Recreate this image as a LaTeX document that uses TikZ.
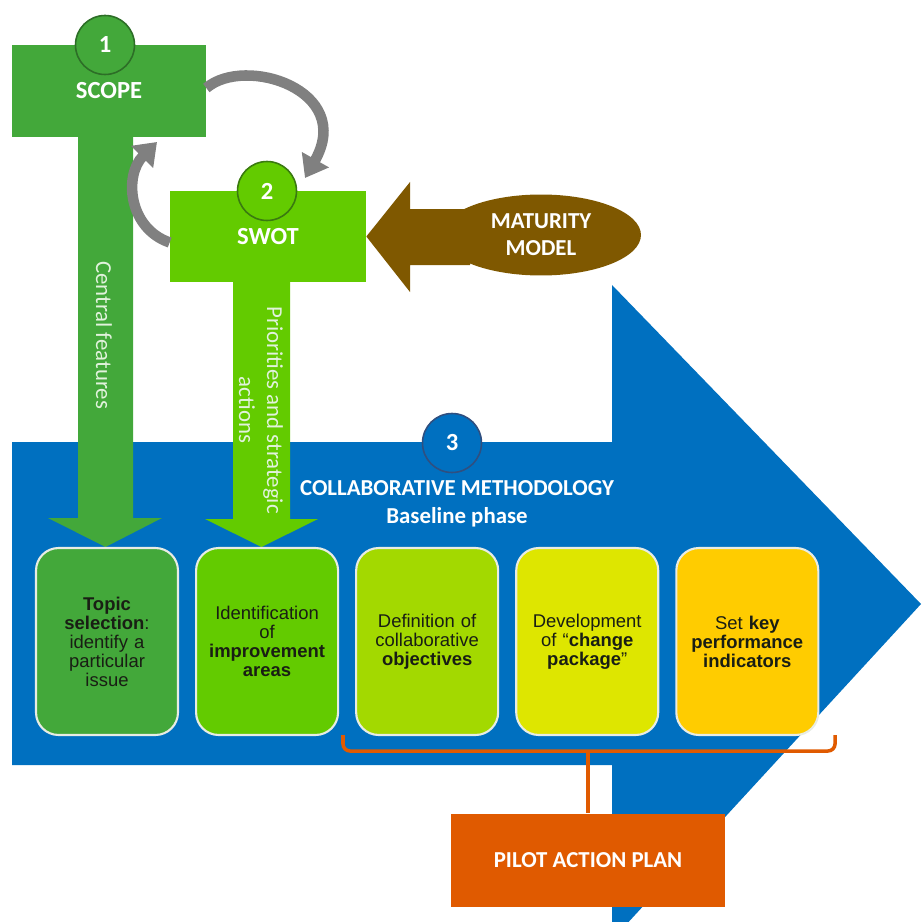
\documentclass[tikz,border=0pt]{standalone}
\usepackage{fontspec}
\setmainfont{Liberation Sans}
\newfontfamily\carlito{Carlito}
\usetikzlibrary{positioning,shapes.geometric,arrows.meta}

\definecolor{blueA}{RGB}{0,112,192}
\definecolor{greenA}{RGB}{67,168,58}
\definecolor{greenB}{RGB}{99,203,0}
\definecolor{greenC}{RGB}{163,217,0}
\definecolor{yellowD}{RGB}{222,230,0}
\definecolor{goldE}{RGB}{255,204,0}
\definecolor{brownM}{RGB}{127,88,0}
\definecolor{orangeP}{RGB}{224,90,0}
\definecolor{grayC}{RGB}{128,128,128}
\definecolor{stemwhite}{RGB}{225,242,220}
\definecolor{boxtext}{RGB}{25,30,20}
\definecolor{boxrim}{RGB}{232,236,228}

\tikzset{
  stepnum/.style={circle, minimum size=1.18cm, inner sep=0pt, line width=0.9pt,
    text=white, font=\carlito\bfseries\fontsize{14}{16}\selectfont},
  headbox/.style={rectangle, inner sep=0pt, text=white,
    font=\carlito\bfseries\fontsize{14}{16}\selectfont},
  stemtxt/.style={rotate=-90, text=stemwhite, align=center, inner sep=0pt,
    font=\carlito\fontsize{13}{16}\selectfont},
  phase/.style={rectangle, rounded corners=0.45cm, minimum width=2.84cm,
    minimum height=3.74cm, draw=boxrim, line width=1.2pt, text width=2.6cm,
    align=center, inner sep=0pt, text=boxtext, font=\fontsize{10.5}{10.8}\selectfont},
  cycarrow/.style={draw=grayC, line width=6pt, -{Triangle[width=17pt,length=12pt]}},
  bracket/.style={draw=orangeP, line width=2pt, rounded corners=4pt},
}

\begin{document}
\begin{tikzpicture}[x=0.02cm, y=-0.02cm]
\useasboundingbox (0,0) rectangle (921,922);

% big methodology arrow
\fill[blueA] (12,442) -- (612,442) -- (612,285) -- (921,604) -- (612,940)
  -- (612,765) -- (12,765) -- cycle;

% stems
\fill[greenA] (78,137) -- (133,137) -- (133,518) -- (162,518) -- (105.5,547)
  -- (48,518) -- (78,518) -- cycle;
\fill[greenB] (233,282) -- (290,282) -- (290,519) -- (318,519) -- (261.5,547)
  -- (205,519) -- (233,519) -- cycle;
\node[stemtxt] (central) at (104,335) {Central features};
\node[stemtxt] (prio) at (261,410) {Priorities and strategic\\actions};

% scope and swot
\node[headbox, fill=greenA, minimum width=3.88cm, minimum height=1.84cm] (scope) at (109,91) {SCOPE};
\node[headbox, fill=greenB, minimum width=3.92cm, minimum height=1.82cm] (swot) at (268,236.5) {SWOT};
\node[stepnum, fill=greenA, draw={rgb,255:red,45;green,110;blue,39}] (n1) at (105,45) {1};
\node[stepnum, fill=greenB, draw={rgb,255:red,58;green,122;blue,16}] (n2) at (267,191) {2};

\draw[cycarrow] ([yshift=0.06cm]scope.east) .. controls (245,55) and (355,90) .. (305,178);
\draw[cycarrow] ([yshift=-0.12cm]swot.west) .. controls (128,228) and (124,175) .. (157,142);

% maturity model
\node[ellipse, fill=brownM, minimum width=4cm, minimum height=1.62cm, inner sep=0pt]
  (mat) at (541,235) {};
\fill[brownM] (470,209) -- (410,209) -- (410,182) -- (swot.east) -- (410,292)
  -- (410,265) -- (470,265) -- cycle;
\node[text=white, align=center, font=\carlito\bfseries\fontsize{13}{15.5}\selectfont]
  (matlabel) at (mat.center) {MATURITY\\MODEL};

% step 3
\node[stepnum, fill=blueA, draw={rgb,255:red,47;green,79;blue,128}] (n3) at (452,443) {3};
\node[text=white, align=center, font=\carlito\bfseries\fontsize{13}{16}\selectfont]
  (colab) at (457,504) {COLLABORATIVE METHODOLOGY\\Baseline phase};

% phase boxes
\node[phase, fill=greenA] (b1) at (107,641.5) {\textbf{Topic}\\\textbf{selection}:\\identify a\\particular\\issue};
\node[phase, fill=greenB, right=0.32cm of b1] (b2) {Identification\\of\\\textbf{improvement}\\\textbf{areas}};
\node[phase, fill=greenC, right=0.32cm of b2] (b3) {Definition of\\collaborative\\\textbf{objectives}};
\node[phase, fill=yellowD, right=0.32cm of b3] (b4) {Development\\of “\textbf{change}\\\textbf{package}”};
\node[phase, fill=goldE, right=0.32cm of b4] (b5) {Set \textbf{key}\\\textbf{performance}\\\textbf{indicators}};

% pilot action plan
\node[rectangle, fill=orangeP, minimum width=5.48cm, minimum height=1.86cm, text=white,
  font=\carlito\bfseries\fontsize{13}{16}\selectfont] (pilot) at (588,860) {PILOT ACTION PLAN};
\coordinate (brL) at (343,735);
\coordinate (brR) at (835,735);
\coordinate (brM) at (588,751);
\draw[bracket] (brL) |- (brR |- brM) -- (brR);
\draw[bracket] (brM) -- (pilot.north);
\end{tikzpicture}
\end{document}
